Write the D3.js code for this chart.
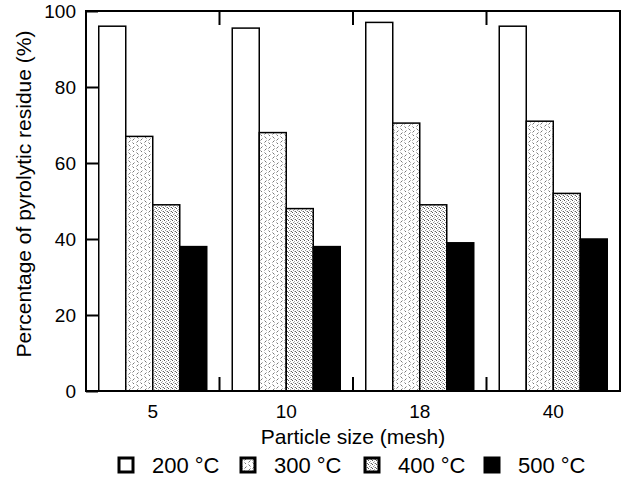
<!DOCTYPE html>
<html>
<head>
<meta charset="utf-8">
<script src="https://cdn.jsdelivr.net/npm/d3@7"></script>
<style>
  html, body { margin: 0; padding: 0; background: #fff; }
  svg { display: block; font-family: "Liberation Sans", Arial, sans-serif; }
</style>
</head>
<body>
<svg id="chart" width="628" height="489"></svg>
<script>
// ---- data ----
const categories = ["5", "10", "18", "40"];
const seriesNames = ["200 °C", "300 °C", "400 °C", "500 °C"];
const s200 = [96, 95.5, 97, 96];
const s300 = [67, 68, 70.5, 71];
const s400 = [49, 48, 49, 52];
const s500 = [38, 38, 39, 40];
const yTicks = [0, 20, 40, 60, 80, 100];
const xTitle = "Particle size (mesh)";
const yTitle = "Percentage of pyrolytic residue (%)";

const seriesValues = [s200, s300, s400, s500];

const svg = d3.select("#chart");
const L = 86, R = 620, T = 11, B = 391;

// patterns
const defs = svg.append("defs");
const p3 = defs.append("pattern").attr("id", "pat300").attr("patternUnits", "userSpaceOnUse")
  .attr("width", 8).attr("height", 8);
p3.append("rect").attr("width", 8).attr("height", 8).attr("fill", "#fff");
p3.append("path").attr("d", "M0.5,0.5 L2.5,2.5 M4.5,4.5 L6.5,2.5 M4.5,6.5 L6.5,8.5 M0.5,6.5 L2.5,4.5")
  .attr("stroke", "#777").attr("stroke-width", 1).attr("fill", "none");
const p4 = defs.append("pattern").attr("id", "pat400").attr("patternUnits", "userSpaceOnUse")
  .attr("width", 4).attr("height", 4);
p4.append("rect").attr("width", 4).attr("height", 4).attr("fill", "#fff");
[[0,0,"#555"],[2,1,"#aaa"],[1,2,"#999"],[3,3,"#666"],[2,3,"#ccc"]].forEach(([x,y,c]) =>
  p4.append("rect").attr("x", x).attr("y", y).attr("width", 1).attr("height", 1).attr("fill", c));
const fills = ["#fff", "url(#pat300)", "url(#pat400)", "#000"];

const x0 = d3.scaleBand().domain(categories).range([L, R]).paddingInner(0).paddingOuter(0);
const bw = x0.bandwidth();
const x1 = d3.scaleBand().domain(seriesNames).range([12.75, bw - 12.75]).paddingInner(0);
const y = d3.scaleLinear().domain([0, 100]).range([B, T]);

// bars
const g = svg.append("g");
categories.forEach((c, i) => {
  seriesNames.forEach((s, j) => {
    const v = seriesValues[j][i];
    g.append("rect")
      .attr("x", x0(c) + x1(s))
      .attr("y", y(v))
      .attr("width", x1.bandwidth())
      .attr("height", y(0) - y(v))
      .attr("fill", fills[j])
      .attr("stroke", "#000")
      .attr("stroke-width", 1.5);
  });
});

// frame
svg.append("rect").attr("x", L).attr("y", T).attr("width", R - L).attr("height", B - T)
  .attr("fill", "none").attr("stroke", "#000").attr("stroke-width", 2);

// y axis
const yAxis = svg.append("g").attr("transform", `translate(${L},0)`)
  .call(d3.axisLeft(y).tickValues(yTicks).tickSizeInner(-12).tickSizeOuter(0).tickPadding(10));
yAxis.select(".domain").remove();
yAxis.selectAll(".tick line").attr("stroke", "#000").attr("stroke-width", 2);
yAxis.selectAll(".tick text").attr("font-size", 19).attr("fill", "#000")
  .attr("font-family", "Liberation Sans, Arial, sans-serif");

// x dividers (ticks between groups, top and bottom)
const dividers = categories.slice(1).map(c => x0(c));
svg.append("g").selectAll("line.bt").data(dividers).join("line")
  .attr("x1", d => d).attr("x2", d => d).attr("y1", B).attr("y2", B - 14)
  .attr("stroke", "#000").attr("stroke-width", 2);
svg.append("g").selectAll("line.tp").data(dividers).join("line")
  .attr("x1", d => d).attr("x2", d => d).attr("y1", T).attr("y2", T + 14)
  .attr("stroke", "#000").attr("stroke-width", 2);

// x labels
svg.append("g").selectAll("text").data(categories).join("text")
  .attr("x", d => x0(d) + bw / 2).attr("y", 418)
  .attr("text-anchor", "middle").attr("font-size", 19).text(d => d);

// titles
svg.append("text").attr("x", (L + R) / 2).attr("y", 444).attr("text-anchor", "middle")
  .attr("font-size", 21).text(xTitle);
svg.append("text").attr("transform", `translate(31,194) rotate(-90)`)
  .attr("text-anchor", "middle").attr("font-size", 21).text(yTitle);

// legend
const legX = [119, 241, 365, 485];
const leg = svg.append("g");
seriesNames.forEach((s, j) => {
  leg.append("rect").attr("x", legX[j]).attr("y", 458).attr("width", 14).attr("height", 14)
    .attr("fill", fills[j]).attr("stroke", "#000").attr("stroke-width", 3);
  leg.append("text").attr("x", legX[j] + 33).attr("y", 473).attr("font-size", 22).text(s);
});
</script>
</body>
</html>
